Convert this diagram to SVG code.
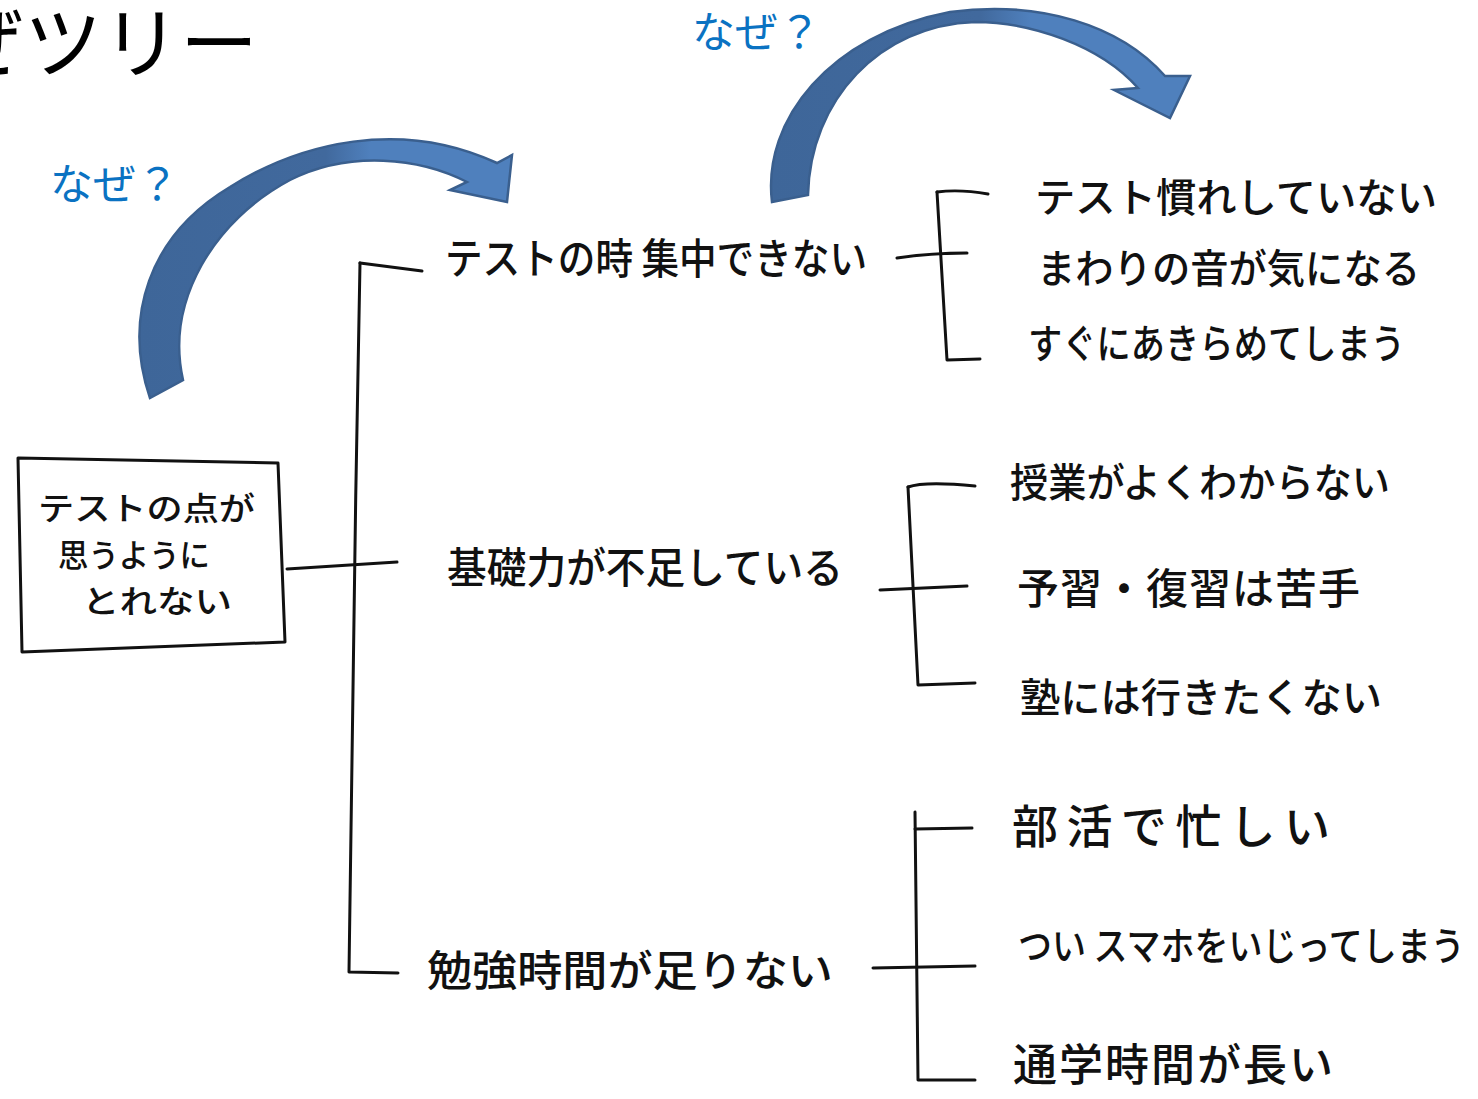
<svg xmlns="http://www.w3.org/2000/svg" width="1478" height="1099" viewBox="0 0 1478 1099">
  <defs>
    <linearGradient id="arrowFill" x1="0" y1="0" x2="1" y2="0">
      <stop offset="0" stop-color="#3e6699"/>
      <stop offset="0.5" stop-color="#41699d"/>
      <stop offset="0.62" stop-color="#4f80bd"/>
      <stop offset="1" stop-color="#4f80bd"/>
    </linearGradient>
    <style>
      .hand { font-family: "Noto Sans CJK JP", "Noto Sans", sans-serif; font-weight: 500; fill: #111; }
      .l1 { font-size: 42px; }
      .l2 { font-size: 40px; }
      .root { font-size: 32px; }
      .why { font-family: "Noto Sans CJK JP", "Noto Sans", sans-serif; font-size: 43px; fill: #0a72c2; }
      .title { font-family: "Noto Sans CJK JP", "Noto Sans", sans-serif; font-size: 78px; fill: #000; }
      .ln { fill: none; stroke: #111; stroke-width: 3; stroke-linecap: round; stroke-linejoin: round; }
      .arrow { fill: url(#arrowFill); stroke: #3a5f8e; stroke-width: 2.5; stroke-linejoin: miter; }
    </style>
  </defs>
  <rect x="0" y="0" width="1478" height="1099" fill="#ffffff"/>

  <g id="title">
    <text class="title" x="258" y="72" text-anchor="end">ぜツリー</text>
  </g>

  <g id="why-arrows">
    <path class="arrow" d="M150,398 C123,318 148,236 230,187 C300,143 400,118 497,163 L512,155 L507,202 L450,190 L467,182 C420,158 350,150 290,180 C215,220 165,300 183,380 Z"/>
    <path class="arrow" d="M772,202 C762,120 830,35 950,12 C1040,0 1120,25 1165,76 L1190,76 L1170,118 L1114,90 L1138,88 C1100,45 1030,22 975,22 C880,25 810,100 808,195 Z"/>
    <text class="why" x="50" y="200">なぜ？</text>
    <text class="why" x="692" y="48">なぜ？</text>
  </g>

  <g id="connectors">
    <path class="ln" d="M287,569 L397,562"/>
    <path class="ln" d="M360,263 L422,271"/>
    <path class="ln" d="M360,263 C356,500 351,700 349,972 L398,973"/>
    <path class="ln" d="M937,192 L947,360 L980,359"/>
    <path class="ln" d="M937,192 Q960,189 988,194"/>
    <path class="ln" d="M897,258 Q930,253 967,253"/>
    <path class="ln" d="M908,487 L918,685 L975,683"/>
    <path class="ln" d="M908,487 Q925,481 975,486"/>
    <path class="ln" d="M880,590 L967,586"/>
    <path class="ln" d="M915,812 L918,1080 L975,1080"/>
    <path class="ln" d="M915,829 L972,828"/>
    <path class="ln" d="M873,968 L975,966"/>
  </g>

  <g id="root">
    <path class="ln" d="M18,458 L278,463 L285,642 L22,652 Z"/>
    <text class="hand root" x="38" y="520" textLength="217" lengthAdjust="spacingAndGlyphs">テストの点が</text>
    <text class="hand root" x="58" y="567" textLength="152" lengthAdjust="spacingAndGlyphs">思うように</text>
    <text class="hand root" x="82" y="613" textLength="150" lengthAdjust="spacingAndGlyphs">とれない</text>
  </g>

  <g id="cause-1">
    <text class="hand l1" x="445" y="274" textLength="422" lengthAdjust="spacingAndGlyphs">テストの時 集中できない</text>
  </g>
  <g id="cause-2">
    <text class="hand l1" x="447" y="583" textLength="396" lengthAdjust="spacingAndGlyphs">基礎力が不足している</text>
  </g>
  <g id="cause-3">
    <text class="hand l1" x="427" y="986" textLength="406" lengthAdjust="spacingAndGlyphs">勉強時間が足りない</text>
  </g>

  <g id="cause-1-1">
    <text class="hand l2" x="1035" y="212" textLength="402" lengthAdjust="spacingAndGlyphs">テスト慣れしていない</text>
  </g>
  <g id="cause-1-2">
    <text class="hand l2" x="1037" y="283" textLength="383" lengthAdjust="spacingAndGlyphs">まわりの音が気になる</text>
  </g>
  <g id="cause-1-3">
    <text class="hand l2" x="1028" y="358" textLength="377" lengthAdjust="spacingAndGlyphs">すぐにあきらめてしまう</text>
  </g>

  <g id="cause-2-1">
    <text class="hand l2" x="1010" y="497" textLength="380" lengthAdjust="spacingAndGlyphs">授業がよくわからない</text>
  </g>
  <g id="cause-2-2">
    <text class="hand" x="1017" y="604" font-size="42" textLength="343">予習・復習は苦手</text>
  </g>
  <g id="cause-2-3">
    <text class="hand l2" x="1020" y="712" textLength="362" lengthAdjust="spacingAndGlyphs">塾には行きたくない</text>
  </g>

  <g id="cause-3-1">
    <text class="hand" x="1012" y="843" font-size="46" textLength="318">部活で忙しい</text>
  </g>
  <g id="cause-3-2">
    <text class="hand" x="0" y="0" font-size="34" transform="translate(1018,960) scale(1,1.15)">つい スマホをいじってしまう</text>
  </g>
  <g id="cause-3-3">
    <text class="hand" x="1013" y="1081" font-size="44" textLength="320">通学時間が長い</text>
  </g>
</svg>
